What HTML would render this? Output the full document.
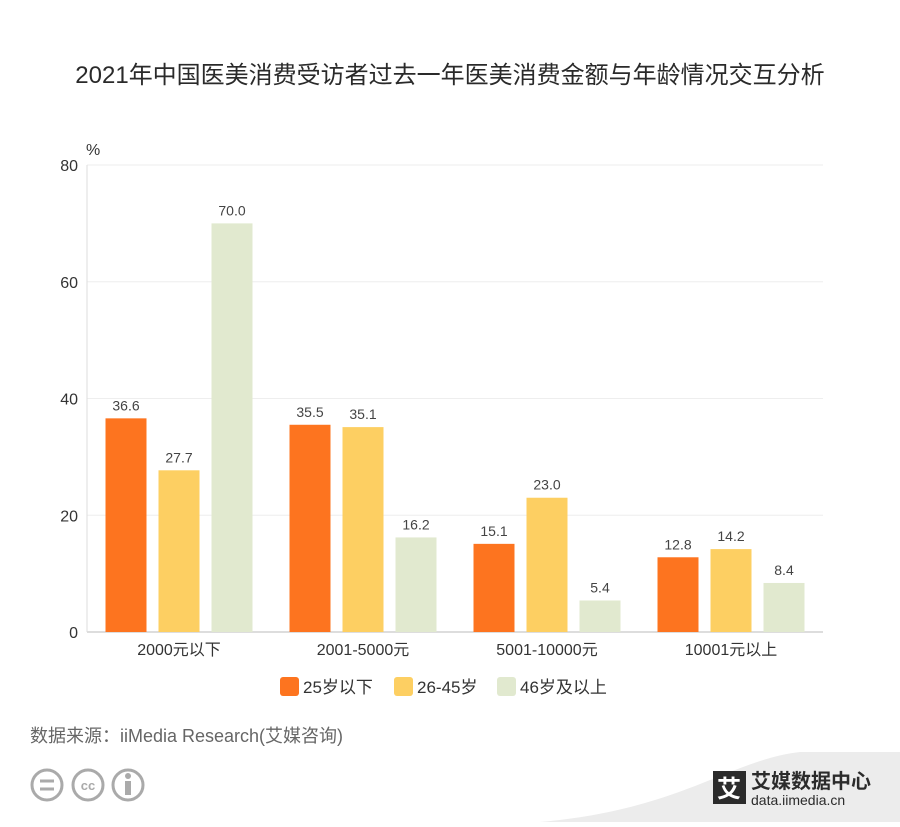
<!DOCTYPE html>
<html><head><meta charset="utf-8">
<style>
body{margin:0;width:900px;height:822px;background:#fff;overflow:hidden;font-family:"Liberation Sans","Noto Sans CJK SC",sans-serif;}
</style></head>
<body>
<svg id="chart" width="900" height="822" xmlns="http://www.w3.org/2000/svg">
<text x="450" y="83" text-anchor="middle" font-size="24" fill="#2a2a2a" font-family="Liberation Sans,Noto Sans CJK SC,sans-serif">2021年中国医美消费受访者过去一年医美消费金额与年龄情况交互分析</text>
<text x="86" y="155" font-size="16" fill="#333">%</text>
<g id="grid"></g><g id="bars"></g><g id="labels"></g>
<g id="legend"></g>
<text x="30" y="742" font-size="18" fill="#666" font-family="Liberation Sans,Noto Sans CJK SC,sans-serif">数据来源：iiMedia Research(艾媒咨询)</text>
<g fill="none" stroke="#aaa" stroke-width="3">
<circle cx="47" cy="785" r="15"/><circle cx="88" cy="785" r="15"/><circle cx="128" cy="785" r="15"/>
<line x1="40" y1="781" x2="54" y2="781"/><line x1="40" y1="789" x2="54" y2="789"/>
</g>
<text x="88" y="790" font-size="13" font-weight="bold" fill="#aaa" text-anchor="middle">cc</text>
<circle cx="128" cy="776" r="3" fill="#aaa"/><rect x="125" y="781" width="6" height="14" fill="#aaa"/>
<path d="M540 822 C680 810 730 760 800 752 L900 752 L900 822 Z" fill="#ececec"/>
<rect x="713" y="771" width="33" height="33" fill="#2b2b2b"/>
<text x="729" y="797" font-size="24" fill="#fff" text-anchor="middle" font-weight="bold" font-family="Noto Sans CJK SC,sans-serif">艾</text>
<text x="751" y="788" font-size="20" font-weight="bold" fill="#2b2b2b" font-family="Noto Sans CJK SC,sans-serif">艾媒数据中心</text>
<text x="751" y="805" font-size="14" fill="#2b2b2b">data.iimedia.cn</text>
</svg>
<script>
const categories=["2000元以下","2001-5000元","5001-10000元","10001元以上"];
const seriesNames=["25岁以下","26-45岁","46岁及以上"];
const s1=[36.6,35.5,15.1,12.8];
const s2=[27.7,35.1,23.0,14.2];
const s3=[70.0,16.2,5.4,8.4];
const yTicks=[0,20,40,60,80];
const colors=["#fd741f","#fdcf62","#e1e9cf"];
const NS="http://www.w3.org/2000/svg";
const x0=87,x1=823,yb=632,yt=165,ymax=80;
const y=v=>yb-(v/ymax)*(yb-yt);
const gw=(x1-x0)/categories.length;
function mk(tag,attrs,parent){const e=document.createElementNS(NS,tag);for(const k in attrs)e.setAttribute(k,attrs[k]);document.getElementById(parent).appendChild(e);return e;}
yTicks.forEach(t=>{
 const l=mk("line",{x1:x0,x2:x1,y1:y(t),y2:y(t),stroke:t===0?"#bbb":"#eee","stroke-width":1},"grid");
 
 
 const tx=mk("text",{x:78,y:y(t)+6,"text-anchor":"end","font-size":16,fill:"#333"},"grid");
 tx.textContent=t;
 
 
});
mk("line",{x1:x0,x2:x0,y1:yt,y2:yb,stroke:"#ddd"},"grid");
const series=[s1,s2,s3];const bw=41,gap=12;
categories.forEach((c,i)=>{
 const cx=x0+gw*i+gw/2;
 series.forEach((s,j)=>{
  const bx=cx-bw*1.5-gap+j*(bw+gap);
  const r=mk("rect",{x:bx,y:y(s[i]),width:bw,height:yb-y(s[i]),fill:colors[j]},"bars");
  
  
  const t=mk("text",{x:bx+bw/2,y:y(s[i])-8,"text-anchor":"middle","font-size":14,fill:"#444"},"labels");
  t.textContent=s[i].toFixed(1);
  
  
 });
 const ct=mk("text",{x:cx,y:655,"text-anchor":"middle","font-size":16,fill:"#333","font-family":"Liberation Sans,Noto Sans CJK SC,sans-serif"},"labels");
 ct.textContent=c;
 
 
});
const lx=[280,394,497];
seriesNames.forEach((n,j)=>{
 const r=mk("rect",{x:lx[j],y:677,width:19,height:19,rx:3,fill:colors[j]},"legend");
 
 
 const t=mk("text",{x:lx[j]+23,y:693,"font-size":17,fill:"#333","font-family":"Liberation Sans,Noto Sans CJK SC,sans-serif"},"legend");
 t.textContent=n;
 
 
});
</script>
</body></html>
